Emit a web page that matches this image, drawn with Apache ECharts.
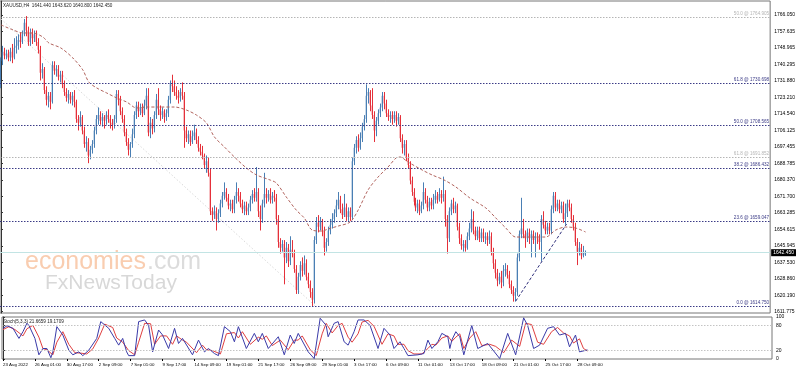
<!DOCTYPE html>
<html><head><meta charset="utf-8">
<script src="https://cdn.jsdelivr.net/npm/echarts@6/dist/echarts.min.js"></script>
<style>html,body{margin:0;padding:0;background:#fff}#c{width:798px;height:372px}</style>
</head><body><div id="c"></div>
<script>
// [open, close, low, high] per H4 bar
const ohlc = [
[1730,1742,1728,1744],[1742,1747,1740,1750],[1747,1745,1743,1749],[1745,1746,1743,1748],[1746,1744,1742,1748],
[1744,1747,1742,1749],[1747,1744,1741,1751],[1744,1749,1743,1754],[1749,1750,1746,1755],[1750,1753,1748,1756],
[1753,1752,1749,1757],[1752,1756,1751,1758],[1756,1762,1755,1764],[1762,1758,1755,1765.5],[1758,1752,1750,1760],
[1752,1757,1750,1759],[1757,1754,1751,1759],[1754,1756,1752,1758],[1756,1752,1750,1758],[1752,1748,1746,1754],
[1748,1736,1732,1750],[1736,1738,1733,1741],[1738,1727,1725,1739],[1727,1722,1719,1729],[1722,1724,1718,1726],
[1724,1721,1717,1726],[1721,1740,1720,1742],[1740,1737,1735,1742],[1737,1738,1734,1740],[1738,1734,1732,1740],
[1734,1735,1731,1737],[1735,1730,1728,1737],[1730,1726,1724,1732],[1726,1723,1721,1728],[1723,1725,1720,1727],
[1725,1722,1720,1726],[1722,1724,1719,1726],[1724,1721,1718,1727],[1721,1712,1710,1722],[1712,1710,1706,1714],
[1710,1713,1708,1716],[1713,1706,1704,1714],[1706,1699,1697,1708],[1699,1700,1695,1703],[1700,1693,1689,1702],
[1693,1696,1691,1698],[1696,1699,1694,1701],[1699,1706,1697,1708],[1706,1712,1704,1714],[1712,1714,1709,1718],
[1714,1711,1709,1716],[1711,1713,1708,1715],[1713,1711,1707,1714],[1711,1714,1709,1716],[1714,1712,1710,1717],
[1712,1710,1707,1714],[1710,1709,1706,1712],[1709,1712,1707,1714],[1712,1725,1710,1727],[1725,1722,1719,1727],
[1722,1716,1714,1724],[1716,1712,1710,1718],[1712,1705,1703,1714],[1705,1700,1698,1707],[1700,1696,1693,1702],
[1696,1699,1692,1700],[1699,1704,1697,1707],[1704,1714,1702,1716],[1714,1719,1712,1721],[1719,1716,1713,1721],
[1716,1718,1714,1720],[1718,1715,1713,1720],[1715,1719,1714,1722],[1719,1724,1717,1728],[1724,1705,1703,1728],
[1705,1710,1702,1713],[1710,1707,1704,1712],[1707,1714,1705,1716],[1714,1722,1712,1725],[1722,1717,1714,1728],
[1717,1714,1711,1719],[1714,1716,1712,1718],[1716,1713,1710,1717],[1713,1715,1711,1717],[1715,1722,1713,1724],
[1722,1730,1720,1732],[1730,1729,1726,1735],[1729,1726,1724,1732],[1726,1724,1722,1729],[1724,1723,1720,1727],
[1723,1726,1721,1728],[1726,1724,1722,1731],[1724,1706,1697,1726],[1706,1702,1700,1708],[1702,1704,1699,1706],
[1704,1700,1698,1706],[1700,1703,1699,1706],[1703,1705,1701,1709],[1705,1701,1699,1707],[1701,1697,1695,1703],
[1697,1695,1693,1699],[1695,1693,1691,1698],[1693,1688,1686,1694],[1688,1690,1684,1693],[1690,1684,1682,1692],
[1684,1664,1662,1686],[1664,1662,1659,1666],[1662,1664,1660,1667],[1664,1660,1654,1666],[1660,1663,1658,1665],
[1663,1668,1661,1670],[1668,1672,1666,1674],[1672,1674,1670,1679],[1674,1671,1669,1676],[1671,1667,1665,1673],
[1667,1668,1664,1670],[1668,1665,1663,1670],[1665,1670,1663,1672],[1670,1674,1668,1679],[1674,1672,1669,1676],
[1672,1668,1666,1674],[1668,1665,1663,1670],[1665,1667,1662,1669],[1667,1664,1662,1669],[1664,1666,1662,1668],
[1666,1670,1664,1672],[1670,1673,1668,1675],[1673,1671,1669,1676],[1671,1674,1669,1687],[1674,1664,1661,1676],
[1664,1660,1654,1667],[1660,1668,1658,1670],[1668,1673,1666,1684],[1673,1671,1668,1676],[1671,1673,1669,1675],
[1673,1670,1668,1676],[1670,1672,1668,1674],[1672,1671,1669,1675],[1671,1660,1657,1673],[1660,1648,1645,1662],
[1648,1645,1642,1650],[1645,1647,1643,1649],[1647,1640,1626,1649],[1640,1645,1637,1648],[1645,1638,1635,1647],
[1638,1644,1636,1651],[1644,1642,1640,1649],[1642,1634,1632,1644],[1634,1623,1621,1636],[1623,1630,1621,1632],
[1630,1636,1628,1638],[1636,1633,1630,1640],[1633,1637,1631,1641],[1637,1630,1628,1639],[1630,1626,1624,1632],
[1626,1622,1619,1628],[1622,1618,1614.75,1624],[1618,1649,1616,1651],[1649,1658,1647,1661],[1658,1656,1653,1662],
[1656,1659,1654,1661],[1659,1654,1651,1660],[1654,1645,1641,1656],[1645,1648,1643,1650],[1648,1654,1646,1656],
[1654,1657,1652,1660],[1657,1660,1655,1663],[1660,1663,1658,1665],[1663,1667,1661,1670],[1667,1670,1665,1674],
[1670,1665,1663,1672],[1665,1662,1660,1668],[1662,1666,1661,1673],[1666,1661,1659,1668],[1661,1664,1659,1666],
[1664,1661,1659,1666],[1661,1690,1660,1692],[1690,1697,1688,1699],[1697,1701,1694,1703],[1701,1697,1695,1704],
[1697,1702,1696,1705],[1702,1708,1700,1710],[1708,1712,1706,1714],[1712,1724,1710,1730],[1724,1726,1720,1728],
[1726,1719,1716,1727],[1719,1714,1712,1728],[1714,1706,1700,1716],[1706,1711,1703,1713],[1711,1715,1709,1717],
[1715,1718,1713,1720],[1718,1724,1716,1726],[1724,1720,1717,1726],[1720,1715,1713,1722],[1715,1713,1711,1717],
[1713,1714,1710,1716],[1714,1712,1709,1716],[1712,1714,1710,1716],[1714,1711,1708,1716],[1711,1713,1709,1715],
[1713,1702,1700,1714],[1702,1697,1694,1704],[1697,1699,1693,1701],[1699,1692,1690,1701],[1692,1688,1686,1694],
[1688,1680,1678,1690],[1680,1674,1672,1682],[1674,1669,1667,1676],[1669,1666,1664,1671],[1666,1668,1663,1670],
[1668,1664,1662,1670],[1664,1667,1663,1669],[1667,1674,1665,1679],[1674,1670,1668,1676],[1670,1666,1664,1672],
[1666,1669,1664,1671],[1669,1667,1665,1671],[1667,1670,1665,1673],[1670,1672,1668,1675],[1672,1670,1668,1674],
[1670,1673,1669,1676],[1673,1671,1668,1675],[1671,1673,1669,1682],[1673,1660,1656,1675],[1660,1650,1642,1662],
[1650,1664,1648,1666],[1664,1668,1662,1670],[1668,1665,1663,1671],[1665,1667,1663,1669],[1667,1656,1654,1668],
[1656,1650,1647,1658],[1650,1646,1644,1652],[1646,1647,1643,1649],[1647,1645,1643,1649],[1645,1651,1644,1653],
[1651,1655,1649,1658],[1655,1660,1653,1665],[1660,1654,1652,1664],[1654,1651,1649,1656],[1651,1654,1649,1656],
[1654,1650,1648,1656],[1650,1653,1648,1655],[1653,1650,1648,1655],[1650,1651,1647,1653],[1651,1649,1646,1653],
[1649,1651,1647,1654],[1651,1643,1641,1653],[1643,1637,1634,1645],[1637,1632,1629,1639],[1632,1628,1625,1634],
[1628,1630,1626,1632],[1630,1627,1624,1633],[1627,1633,1625,1636],[1633,1634,1630,1637],[1634,1631,1629,1636],
[1631,1626,1624,1633],[1626,1623,1621,1628],[1623,1620,1617,1625],[1620,1622,1617,1624],[1622,1640,1620,1642],
[1640,1652,1638,1654],[1652,1655,1650,1671],[1655,1652,1650,1660],[1652,1650,1645,1654],[1650,1653,1648,1655],
[1653,1650,1647,1655],[1650,1652,1640,1654],[1652,1649,1647,1654],[1649,1651,1640,1653],[1651,1650,1647,1653],
[1650,1648,1644,1652],[1648,1660,1638,1662],[1660,1657,1655,1664],[1657,1654,1652,1659],[1654,1656,1652,1658],
[1656,1654,1652,1658],[1654,1665,1652,1667],[1665,1672,1663,1674],[1672,1666,1664,1674],[1666,1668,1664,1670],
[1668,1665,1663,1670],[1665,1667,1663,1669],[1667,1660,1658,1669],[1660,1663,1657,1668],[1663,1668,1661,1670],
[1668,1666,1664,1670],[1666,1660,1658,1668],[1660,1656,1654,1662],[1656,1648,1646,1658],[1648,1643,1636,1650],
[1643,1645,1641,1648],[1645,1641,1639,1647],[1641,1643,1640,1646],[1641.44,1642.45,1640.8,1643.62]
];
// moving average [bar index, price]
const maPoints = [[0,1760.9],[6,1758.3],[11,1756.7],[16,1756.7],[21,1754.6],[24,1751.5],[30,1748.9],[36,1743.7],[41,1737.5],[44,1731.2],[48,1728.1],[53,1725.5],[58,1722.9],[63,1720.8],[68,1717.7],[73,1718.2],[80,1718.2],[87,1718.2],[93,1716.6],[98,1714.0],[103,1709.9],[107,1702.6],[112,1697.4],[117,1692.2],[123,1686.5],[128,1682.9],[135,1680.2],[138,1678.7],[143,1671.4],[148,1664.6],[152,1660.5],[156,1654.2],[161,1653.7],[164,1654.8],[169,1656.3],[175,1658.4],[179,1664.6],[184,1675.1],[189,1681.8],[194,1687.0],[198,1691.7],[200,1692.2],[204,1689.6],[211,1685.5],[216,1682.9],[222,1680.3],[228,1676.6],[235,1670.9],[243,1665.7],[248,1660.5],[253,1655.3],[258,1650.6],[263,1650.6],[268,1650.6],[273,1650.6],[278,1654.2],[283,1655.8],[288,1655.3],[293,1653.2]];
const stochK = [[0,73],[2,79],[5,73],[8,49],[10,65],[12,85],[13,80],[16,49],[18,10],[20,25],[22,25],[24,3],[25,17],[27,77],[30,57],[33,21],[35,10],[38,17],[40,8],[43,21],[47,49],[49,89],[53,73],[56,49],[58,33],[60,49],[62,17],[63,8],[66,8],[68,89],[71,93],[73,80],[75,17],[78,69],[80,57],[83,25],[86,73],[88,37],[90,49],[95,10],[98,45],[101,17],[103,25],[106,13],[108,8],[111,77],[114,65],[116,41],[118,77],[122,25],[126,61],[128,41],[130,61],[133,25],[138,53],[141,10],[144,57],[146,37],[148,61],[153,17],[156,1],[159,97],[162,80],[163,53],[166,85],[168,89],[171,41],[173,33],[176,65],[178,93],[181,93],[184,80],[188,25],[191,73],[194,57],[196,25],[199,41],[201,25],[203,8],[208,10],[211,13],[213,45],[215,25],[218,41],[220,61],[223,53],[224,25],[225,45],[227,65],[229,53],[231,10],[235,80],[238,25],[243,37],[244,41],[249,1],[253,61],[257,10],[261,98],[263,80],[266,25],[269,33],[273,73],[276,77],[279,57],[282,61],[284,29],[287,57],[289,17],[293,21.67]];
const stochD = [[0,70],[3,77],[6,70],[10,55],[12,72],[15,80],[18,52],[20,25],[22,22],[25,10],[27,40],[30,65],[33,35],[36,15],[39,14],[42,12],[45,24],[48,50],[51,83],[55,75],[57,50],[60,40],[63,20],[66,10],[68,40],[71,85],[74,84],[76,35],[79,55],[82,55],[85,35],[87,55],[90,45],[92,40],[97,15],[100,33],[102,22],[105,20],[109,12],[112,60],[116,63],[118,50],[120,65],[124,35],[128,52],[130,47],[132,55],[135,32],[139,45],[143,22],[146,45],[148,45],[150,55],[154,22],[157,8],[160,60],[162,85],[165,62],[168,80],[170,85],[173,52],[175,40],[178,60],[180,88],[183,92],[186,78],[190,35],[193,60],[196,55],[198,35],[201,35],[203,20],[206,12],[210,12],[213,25],[215,35],[217,33],[220,50],[223,55],[225,42],[227,52],[229,60],[231,25],[234,50],[237,65],[240,32],[244,35],[247,30],[251,15],[255,45],[259,30],[262,85],[265,82],[268,40],[271,35],[275,65],[278,75],[281,62],[284,55],[286,38],[289,48],[291,25],[293,19.17]];
const priceTicks = [1766.050,1757.635,1748.965,1740.295,1731.880,1723.210,1714.540,1706.125,1697.455,1688.785,1680.370,1671.700,1663.285,1654.615,1645.945,1637.530,1628.860,1620.190,1611.775];
const stochTicks = [100, 80, 20, 0];
const stochLevels = [80, 20];
const timeLabels = {0:'23 Aug 2022',16:'26 Aug 01:00',32:'30 Aug 17:00',48:'2 Sep 09:00',64:'7 Sep 01:00',80:'9 Sep 17:00',96:'14 Sep 09:00',112:'19 Sep 01:00',128:'21 Sep 17:00',144:'26 Sep 09:00',160:'29 Sep 01:00',176:'3 Oct 17:00',192:'6 Oct 09:00',208:'11 Oct 01:00',224:'13 Oct 17:00',240:'18 Oct 09:00',256:'21 Oct 01:00',272:'25 Oct 17:00',288:'28 Oct 09:00'};
const fibBlue = [[0.0,1614.750],[23.6,1659.047],[38.2,1686.432],[50.0,1708.565],[61.8,1730.698]];
const fibGrey = [[50.0,1764.905],[61.8,1691.852]];
const lastPrice = 1642.450;
const trendBlue = [[258,1617.3],[283.5,1657.4]];
const trendGrey = [[0,1764.0],[157.5,1614.75]];
const titleText = 'XAUUSD,H4  1641.440 1643.620 1640.800 1642.450';
const stochTitle = 'Stoch(5,3,3) 21.6659 19.1709';

const N = 386;
const cats = Array.from({length: N}, (_, i) => String(i));
const candleData = ohlc.map((b, i) => [i, b[0], b[1], b[2], b[3]]);
const FONT = '"Liberation Sans", Arial, sans-serif';
const UP = '#4a7fb4', DOWN = '#e5303a';
const BLUE_FIB = '#3b3b86', GREY_FIB = '#b5b5b5';
const chart = echarts.init(document.getElementById('c'), null, {renderer: 'canvas'});

const fibLabel = (l, v, col) => ({show: true, position: 'insideEndTop', formatter: l.toFixed(1) + ' @ ' + v.toFixed(3), color: col, fontSize: 4.6, fontFamily: FONT, distance: 1});
const fibLines = fibBlue.map(([l, v]) => ({yAxis: v, lineStyle: {color: BLUE_FIB, type: [1.5, 1.5], width: 1}, label: fibLabel(l, v, BLUE_FIB)}))
 .concat(fibGrey.map(([l, v]) => ({yAxis: v, lineStyle: {color: GREY_FIB, type: [1.5, 1.5], width: 1}, label: fibLabel(l, v, GREY_FIB)})))
 .concat([{yAxis: lastPrice, lineStyle: {color: '#c2e4e4', type: 'solid', width: 1},
  label: {show: true, position: 'end', formatter: lastPrice.toFixed(3), color: '#fff', backgroundColor: '#000', fontSize: 5, fontFamily: FONT, padding: [1, 2], distance: 1}}]);

function renderCandle(params, api) {
  const i = api.value(0), o = api.value(1), c = api.value(2), l = api.value(3), h = api.value(4);
  const pO = api.coord([i, o]), pC = api.coord([i, c]), pL = api.coord([i, l]), pH = api.coord([i, h]);
  const col = c >= o ? UP : DOWN;
  const cx = Math.floor(pO[0]) + 0.5;
  const top = Math.min(pO[1], pC[1]), bh = Math.max(1, Math.abs(pO[1] - pC[1]));
  return {type: 'group', children: [
    {type: 'line', shape: {x1: cx, y1: pH[1], x2: cx, y2: pL[1]}, style: {stroke: col, lineWidth: 1}},
    {type: 'rect', shape: {x: cx - 0.8, y: top, width: 1.3, height: bh}, style: {fill: col}}
  ]};
}

const baseGraphics = [
  {type: 'text', id: 'title', left: 3, top: 3, style: {text: titleText, font: '4.6px ' + FONT, fill: '#222'}},
  {type: 'text', id: 'stitle', left: 3, top: 319, style: {text: stochTitle, font: '4.6px ' + FONT, fill: '#222'}},
  {type: 'text', id: 'wm1', x: 25, y: 262, z: -1, style: {text: 'economies', font: '25px ' + FONT, fill: '#f9cdb0', verticalAlign: 'middle'}},
  {type: 'text', id: 'wm2', x: 147, y: 262, z: -1, style: {text: '.com', font: '25px ' + FONT, fill: '#dcdcdc', verticalAlign: 'middle'}},
  {type: 'text', id: 'wm3', x: 45, y: 283, z: -1, style: {text: 'FxNewsToday', font: '21px ' + FONT, fill: '#d8d8d8', verticalAlign: 'middle'}}
];

const option = {
  animation: false,
  backgroundColor: '#fff',
  grid: [
    {left: 0, top: 1, width: 772, height: 312, show: true, borderColor: '#777', borderWidth: 1},
    {left: 0, top: 317, width: 772, height: 42, show: true, borderColor: '#777', borderWidth: 1}
  ],
  xAxis: [
    {type: 'category', gridIndex: 0, data: cats, boundaryGap: true, axisLine: {show: false}, axisTick: {show: false}, axisLabel: {show: false}, splitLine: {show: false}},
    {type: 'value', gridIndex: 0, min: -0.5, max: N - 0.5, show: false},
    {type: 'category', gridIndex: 1, data: cats, boundaryGap: true, axisLine: {show: false},
      axisTick: {show: true, alignWithLabel: true, interval: (i) => timeLabels[i] !== undefined, length: 2, lineStyle: {color: '#000'}},
      axisLabel: {interval: (i) => timeLabels[i] !== undefined, formatter: (v, i) => timeLabels[i] || '', fontSize: 4.4, fontFamily: FONT, color: '#000', align: 'left', margin: 4},
      splitLine: {show: false}},
    {type: 'value', gridIndex: 1, min: -0.5, max: N - 0.5, show: false}
  ],
  yAxis: [
    {type: 'value', gridIndex: 0, position: 'right', min: 1611.09, max: 1773.33,
      splitLine: {show: false}, axisLine: {show: true, lineStyle: {color: '#333'}},
      axisTick: {show: true, customValues: priceTicks, length: 2, lineStyle: {color: '#333'}},
      axisLabel: {customValues: priceTicks, hideOverlap: false, formatter: (v) => Number(v).toFixed(3), fontSize: 5, fontFamily: FONT, color: '#000', margin: 4}},
    {type: 'value', gridIndex: 1, position: 'right', min: 0, max: 100,
      splitLine: {show: false}, axisLine: {show: true, lineStyle: {color: '#333'}},
      axisTick: {show: true, customValues: stochTicks, length: 2, lineStyle: {color: '#333'}},
      axisLabel: {show: false}}
  ],
  series: [
    {type: 'line', xAxisIndex: 1, yAxisIndex: 0, data: trendGrey, symbol: 'none', silent: true, z: 1,
      lineStyle: {color: '#d8d8d8', width: 1, type: [1.5, 2]}},
    {type: 'custom', xAxisIndex: 0, yAxisIndex: 0, data: candleData, renderItem: renderCandle, silent: true, z: 3,
      encode: {x: 0, y: [1, 2, 3, 4]}, clip: true,
      markLine: {silent: true, symbol: 'none', animation: false, data: fibLines}},
    {type: 'line', xAxisIndex: 1, yAxisIndex: 0, data: maPoints, symbol: 'none', smooth: 0.3, silent: true, z: 4,
      lineStyle: {color: '#b0625c', width: 1, type: [3, 2]}},
    {type: 'line', xAxisIndex: 1, yAxisIndex: 0, data: trendBlue, symbol: 'none', silent: true, z: 4,
      lineStyle: {color: '#2d2d7a', width: 1, type: [3, 2]}},
    {type: 'line', xAxisIndex: 3, yAxisIndex: 1, data: stochD, symbol: 'none', silent: true,
      lineStyle: {color: '#e04040', width: 1},
      markLine: {silent: true, symbol: 'none', animation: false, label: {show: false},
        data: stochLevels.map(v => ({yAxis: v})), lineStyle: {color: '#c4c4c4', type: [1.5, 1.5], width: 1}}},
    {type: 'line', xAxisIndex: 3, yAxisIndex: 1, data: stochK, symbol: 'none', silent: true,
      lineStyle: {color: '#3a3aa8', width: 1}}
  ],
  graphic: baseGraphics
};
chart.setOption(option);

// stochastic scale labels placed through the library's own axis scale, on a top layer
const axisX = chart.convertToPixel({xAxisIndex: 3}, N - 0.5);
const stochLabelGraphics = stochTicks.map(v => ({
  type: 'text', id: 'stochLabel' + v, x: axisX + 4, y: chart.convertToPixel({yAxisIndex: 1}, v), z: 1000, zlevel: 1,
  style: {text: String(v), font: '5px ' + FONT, fill: '#000', verticalAlign: 'middle'}
}));
chart.setOption({graphic: baseGraphics.concat(stochLabelGraphics)}, {replaceMerge: ['graphic']});
</script>
</body></html>
